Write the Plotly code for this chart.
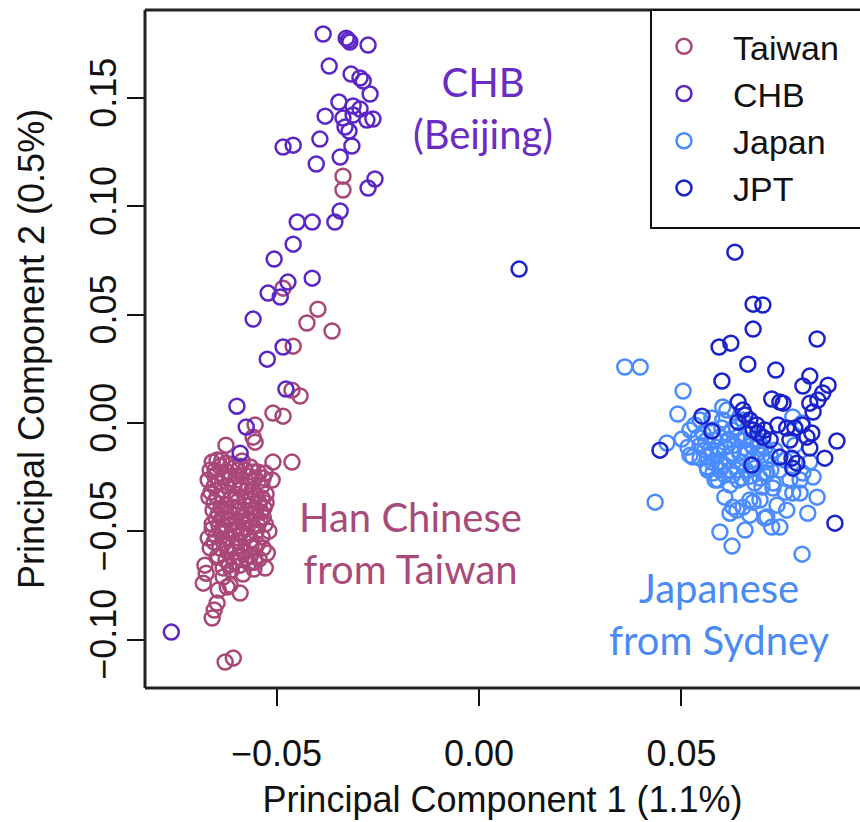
import plotly.graph_objects as go

# Principal-component scores (PC1, PC2) per sample, one list per population
taiwan = [
    (-0.0336, 0.1140), (-0.0336, 0.1076), (-0.0484, 0.0623), (-0.0398, 0.0526),
    (-0.0425, 0.0462), (-0.0363, 0.0425), (-0.0459, 0.0355), (-0.0462, 0.0152),
    (-0.0442, 0.0125), (-0.0509, 0.0046), (-0.0484, 0.0032), (-0.0553, -0.0009),
    (-0.0558, -0.0065), (-0.0625, -0.0102), (-0.0553, -0.0088), (-0.0509, -0.0180),
    (-0.0462, -0.0180), (-0.0528, -0.0231), (-0.0511, -0.0263), (-0.0647, -0.0171),
    (-0.0659, -0.0180), (-0.0635, -0.0171), (-0.0610, -0.0189), (-0.0585, -0.0175),
    (-0.0565, -0.0203), (-0.0652, -0.0217), (-0.0622, -0.0226), (-0.0595, -0.0217),
    (-0.0570, -0.0245), (-0.0546, -0.0226), (-0.0669, -0.0263), (-0.0642, -0.0272),
    (-0.0615, -0.0259), (-0.0588, -0.0282), (-0.0560, -0.0268), (-0.0536, -0.0291),
    (-0.0662, -0.0319), (-0.0630, -0.0309), (-0.0600, -0.0328), (-0.0575, -0.0314),
    (-0.0551, -0.0337), (-0.0526, -0.0328), (-0.0654, -0.0365), (-0.0625, -0.0379),
    (-0.0595, -0.0360), (-0.0568, -0.0383), (-0.0543, -0.0369), (-0.0644, -0.0420),
    (-0.0615, -0.0411), (-0.0585, -0.0429), (-0.0558, -0.0416), (-0.0533, -0.0434),
    (-0.0659, -0.0466), (-0.0630, -0.0476), (-0.0600, -0.0457), (-0.0573, -0.0485),
    (-0.0546, -0.0471), (-0.0519, -0.0499), (-0.0649, -0.0522), (-0.0620, -0.0531),
    (-0.0590, -0.0512), (-0.0563, -0.0540), (-0.0536, -0.0526), (-0.0640, -0.0577),
    (-0.0610, -0.0568), (-0.0580, -0.0591), (-0.0553, -0.0577), (-0.0625, -0.0633),
    (-0.0595, -0.0619), (-0.0568, -0.0646), (-0.0543, -0.0628), (-0.0612, -0.0679),
    (-0.0583, -0.0697), (-0.0556, -0.0674), (-0.0659, -0.0489), (-0.0605, -0.0286),
    (-0.0578, -0.0342), (-0.0635, -0.0443), (-0.0568, -0.0448), (-0.0598, -0.0545),
    (-0.0620, -0.0596), (-0.0652, -0.0245), (-0.0551, -0.0397), (-0.0583, -0.0485),
    (-0.0669, -0.0531), (-0.0523, -0.0600), (-0.0528, -0.0669), (-0.0677, -0.0656),
    (-0.0681, -0.0739), (-0.0632, -0.0711), (-0.0590, -0.0785), (-0.0647, -0.0831),
    (-0.0654, -0.0863), (-0.0659, -0.0900), (-0.0627, -0.1103), (-0.0607, -0.1085),
    (-0.0664, -0.0577), (-0.0644, -0.0771), (-0.0615, -0.0748), (-0.0674, -0.0693),
    (-0.0647, -0.0619), (-0.0622, -0.0757),
    (-0.0640, -0.0199), (-0.0602, -0.0203), (-0.0578, -0.0217), (-0.0630, -0.0249),
    (-0.0600, -0.0245), (-0.0553, -0.0254), (-0.0654, -0.0291), (-0.0620, -0.0291),
    (-0.0570, -0.0291), (-0.0647, -0.0342), (-0.0612, -0.0346), (-0.0536, -0.0346),
    (-0.0637, -0.0392), (-0.0605, -0.0388), (-0.0580, -0.0402), (-0.0531, -0.0392),
    (-0.0649, -0.0443), (-0.0620, -0.0448), (-0.0595, -0.0480), (-0.0551, -0.0503),
    (-0.0635, -0.0499), (-0.0607, -0.0494), (-0.0575, -0.0522), (-0.0630, -0.0554),
    (-0.0548, -0.0559), (-0.0602, -0.0596), (-0.0565, -0.0614), (-0.0590, -0.0656),
    (-0.0617, -0.0656), (-0.0541, -0.0448),
    (-0.0664, -0.0217), (-0.0625, -0.0185), (-0.0590, -0.0199), (-0.0558, -0.0226),
    (-0.0533, -0.0254), (-0.0667, -0.0342), (-0.0635, -0.0337), (-0.0590, -0.0305),
    (-0.0560, -0.0309), (-0.0526, -0.0369), (-0.0657, -0.0402), (-0.0625, -0.0411),
    (-0.0595, -0.0406), (-0.0565, -0.0355), (-0.0538, -0.0411), (-0.0642, -0.0476),
    (-0.0612, -0.0466), (-0.0583, -0.0452), (-0.0558, -0.0476), (-0.0528, -0.0466),
    (-0.0654, -0.0549), (-0.0622, -0.0568), (-0.0590, -0.0568), (-0.0563, -0.0572),
    (-0.0533, -0.0577), (-0.0644, -0.0614), (-0.0605, -0.0642), (-0.0575, -0.0623),
    (-0.0632, -0.0669), (-0.0553, -0.0642),
]

chb = [
    (-0.0385, 0.1796), (-0.0328, 0.1777), (-0.0319, 0.1759), (-0.0323, 0.1768),
    (-0.0274, 0.1745), (-0.0370, 0.1648), (-0.0316, 0.1611), (-0.0294, 0.1593),
    (-0.0286, 0.1579), (-0.0269, 0.1519), (-0.0346, 0.1482), (-0.0311, 0.1464),
    (-0.0294, 0.1450), (-0.0380, 0.1417), (-0.0336, 0.1408), (-0.0311, 0.1422),
    (-0.0277, 0.1399), (-0.0262, 0.1404), (-0.0331, 0.1367), (-0.0321, 0.1348),
    (-0.0484, 0.1274), (-0.0459, 0.1283), (-0.0393, 0.1311), (-0.0314, 0.1279),
    (-0.0343, 0.1228), (-0.0402, 0.1196), (-0.0257, 0.1127), (-0.0274, 0.1085),
    (-0.0343, 0.0979), (-0.0356, 0.0928), (-0.0449, 0.0928), (-0.0412, 0.0928),
    (-0.0459, 0.0826), (-0.0506, 0.0757), (-0.0412, 0.0669), (-0.0472, 0.0651),
    (-0.0521, 0.0600), (-0.0491, 0.0582), (-0.0558, 0.0480), (-0.0484, 0.0351),
    (-0.0523, 0.0295), (-0.0477, 0.0157), (-0.0598, 0.0078), (-0.0575, -0.0018),
    (-0.0590, -0.0139), (-0.0760, -0.0965),
]

japan = [
    (0.0360, 0.0259), (0.0398, 0.0259), (0.0504, 0.0148), (0.0491, 0.0042),
    (0.0501, -0.0074), (0.0464, -0.0092), (0.0435, -0.0365), (0.0541, -0.0065),
    (0.0546, -0.0162), (0.0565, -0.0157), (0.0595, -0.0185), (0.0588, -0.0111),
    (0.0620, -0.0286), (0.0627, -0.0388), (0.0602, 0.0014), (0.0612, 0.0060),
    (0.0627, -0.0139), (0.0620, -0.0217), (0.0602, 0.0074), (0.0637, -0.0065),
    (0.0701, -0.0231), (0.0726, -0.0277), (0.0793, -0.0323), (0.0835, -0.0342),
    (0.0768, -0.0263), (0.0669, -0.0355), (0.0652, -0.0388), (0.0736, -0.0379),
    (0.0760, -0.0402), (0.0711, -0.0434), (0.0620, -0.0416), (0.0723, -0.0480),
    (0.0743, -0.0480), (0.0800, -0.0231), (0.0689, -0.0139), (0.0595, -0.0503),
    (0.0625, -0.0568), (0.0798, -0.0605), (0.0706, -0.0439), (0.0637, -0.0402),
    (0.0677, -0.0365), (0.0775, -0.0323), (0.0726, -0.0300), (0.0699, -0.0295),
    (0.0793, -0.0263), (0.0825, -0.0249), (0.0528, -0.0157), (0.0563, -0.0203),
    (0.0578, -0.0231), (0.0602, -0.0194), (0.0637, -0.0217), (0.0644, -0.0139),
    (0.0711, -0.0231), (0.0743, -0.0217), (0.0775, 0.0028), (0.0798, 0.0000),
    (0.0516, -0.0111), (0.0560, -0.0083), (0.0578, -0.0032), (0.0657, -0.0078),
    (0.0664, -0.0023), (0.0694, -0.0102), (0.0674, -0.0171), (0.0649, -0.0254),
    (0.0681, -0.0277), (0.0607, -0.0342), (0.0570, -0.0125), (0.0590, -0.0263),
    (0.0719, -0.0148), (0.0756, -0.0171), (0.0780, -0.0102), (0.0817, -0.0180),
    (0.0652, 0.0014), (0.0635, -0.0018), (0.0615, -0.0078), (0.0546, 0.0014),
    (0.0575, 0.0023), (0.0521, -0.0032), (0.0694, -0.0355), (0.0669, -0.0425),
    (0.0756, -0.0319), (0.0812, -0.0416), (0.0657, -0.0494),
    (0.0583, -0.0078), (0.0607, -0.0111), (0.0632, -0.0102), (0.0664, -0.0125),
    (0.0558, -0.0125), (0.0590, -0.0148), (0.0615, -0.0171), (0.0649, -0.0180),
    (0.0681, -0.0208), (0.0575, -0.0180), (0.0607, -0.0240), (0.0640, -0.0263),
    (0.0669, -0.0245), (0.0706, -0.0180), (0.0731, -0.0125), (0.0699, -0.0148),
    (0.0625, -0.0032), (0.0657, -0.0134), (0.0689, -0.0078), (0.0595, -0.0065),
    (0.0533, -0.0009), (0.0553, -0.0046), (0.0600, -0.0023), (0.0644, -0.0055),
    (0.0674, -0.0102), (0.0706, -0.0115), (0.0565, -0.0217), (0.0595, -0.0217),
    (0.0627, -0.0240), (0.0659, -0.0217), (0.0694, -0.0254), (0.0721, -0.0217),
    (0.0521, -0.0148), (0.0546, -0.0102), (0.0583, -0.0263),
]

jpt = [
    (0.0099, 0.0711), (0.0632, 0.0789), (0.0677, 0.0549), (0.0701, 0.0545),
    (0.0677, 0.0434), (0.0835, 0.0388), (0.0593, 0.0351), (0.0622, 0.0369),
    (0.0664, 0.0272), (0.0733, 0.0245), (0.0600, 0.0194), (0.0817, 0.0217),
    (0.0800, 0.0171), (0.0862, 0.0175), (0.0849, 0.0139), (0.0723, 0.0111),
    (0.0743, 0.0097), (0.0751, 0.0092), (0.0640, 0.0097), (0.0652, 0.0060),
    (0.0551, 0.0032), (0.0575, -0.0037), (0.0817, 0.0092), (0.0825, 0.0051),
    (0.0447, -0.0125), (0.0884, -0.0083), (0.0837, 0.0106), (0.0669, 0.0014),
    (0.0686, -0.0009), (0.0677, -0.0032), (0.0738, -0.0009), (0.0760, -0.0023),
    (0.0780, -0.0023), (0.0798, -0.0009), (0.0822, -0.0046), (0.0810, -0.0065),
    (0.0817, -0.0115), (0.0743, -0.0157), (0.0773, -0.0162), (0.0785, -0.0185),
    (0.0775, -0.0208), (0.0854, -0.0162), (0.0674, -0.0194), (0.0879, -0.0462),
    (0.0701, -0.0065), (0.0689, -0.0046), (0.0640, 0.0005), (0.0706, -0.0032),
    (0.0719, -0.0078), (0.0657, 0.0037), (0.0768, -0.0078),
]

populations = ["Taiwan", "CHB", "Japan", "JPT"]
scores = [taiwan, chb, japan, jpt]
colors = ["#a94878", "#5b26c6", "#4a8cff", "#1a22cc"]

x_ticks = [-0.05, 0.00, 0.05]
y_ticks = [-0.10, -0.05, 0.00, 0.05, 0.10, 0.15]
x_title = "Principal Component 1 (1.1%)"
y_title = "Principal Component 2 (0.5%)"

labels = [
    ("CHB<br>(Beijing)", 0.0010, 0.1454, "#6a2cc4"),
    ("Han Chinese<br>from Taiwan", -0.0170, -0.0554, "#a84b7b"),
    ("Japanese<br>from Sydney", 0.0595, -0.0882, "#4a8af4"),
]

AXIS_FONT = "Liberation Sans, Arial, Helvetica, sans-serif"
LABEL_FONT = "Lato, 'Open Sans', sans-serif"

fig = go.Figure()
for name, pts, col in zip(populations, scores, colors):
    fig.add_trace(go.Scatter(
        x=[p[0] for p in pts], y=[p[1] for p in pts],
        mode="markers", name=name,
        marker=dict(symbol="circle-open", size=15, color=col,
                    line=dict(color=col, width=2.5)),
    ))

for text, x, y, col in labels:
    fig.add_annotation(x=x, y=y, xref="x", yref="y", text=text, showarrow=False,
                       font=dict(family=LABEL_FONT, size=40, color=col),
                       xanchor="center", yanchor="middle", align="center")

# plot frame (right edge runs past the page)
frame = dict(color="#222222", width=3)
fig.add_shape(type="line", xref="paper", yref="paper", x0=0, x1=0, y0=0, y1=1, line=frame)
fig.add_shape(type="line", xref="paper", yref="paper", x0=0, x1=1.05, y0=1, y1=1, line=frame)
fig.add_shape(type="line", xref="paper", yref="paper", x0=0, x1=1.05, y0=0, y1=0, line=frame)
# legend box
fig.add_shape(type="rect", xref="paper", yref="paper", x0=0.7077, x1=1.05, y0=0.6785, y1=1.0,
              line=dict(color="#111111", width=2), fillcolor="white", layer="above")

fig.update_layout(
    width=860, height=822,
    margin=dict(l=145, r=0, t=10, b=134),
    paper_bgcolor="white", plot_bgcolor="white",
    font=dict(family=AXIS_FONT, color="#111111"),
    showlegend=True,
    legend=dict(x=0.6853, y=0.9886, xanchor="left", yanchor="top",
                bgcolor="rgba(0,0,0,0)", borderwidth=0,
                font=dict(family=AXIS_FONT, size=34, color="#111111"),
                itemwidth=88, tracegroupgap=0),
)
fig.update_xaxes(range=[-0.0825, 0.0941], tickvals=x_ticks, tickformat=".2f",
                 ticks="outside", ticklen=17, tickwidth=2, tickcolor="#111111",
                 tickfont=dict(size=36), showgrid=False, zeroline=False, showline=False,
                 ticklabelstandoff=17,
                 title=dict(text=x_title, font=dict(size=36), standoff=13))
fig.update_yaxes(range=[-0.1223, 0.1907], tickvals=y_ticks, tickformat=".2f",
                 ticks="outside", ticklen=17, tickwidth=2, tickcolor="#111111",
                 tickfont=dict(size=36), tickangle=-90, showgrid=False, zeroline=False,
                 showline=False, ticklabelstandoff=-3,
                 title=dict(text=y_title, font=dict(size=36), standoff=26))

fig.write_html("out.html")
